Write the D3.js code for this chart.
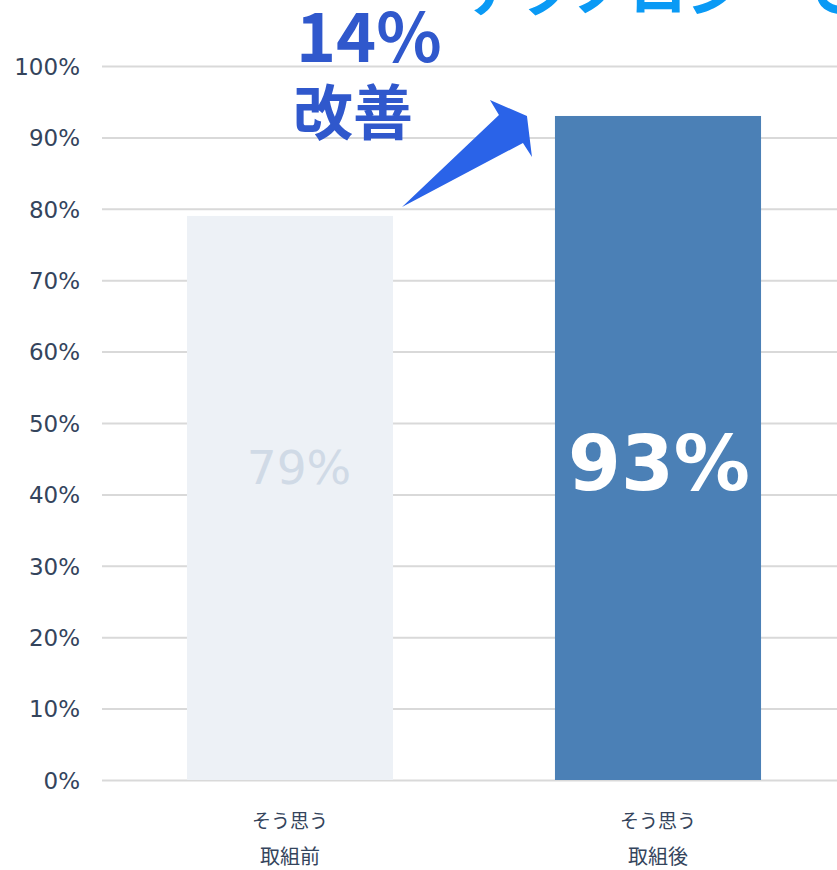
<!DOCTYPE html>
<html>
<head>
<meta charset="utf-8">
<script src="https://cdn.jsdelivr.net/npm/d3@7"></script>
<style>
  html, body { margin: 0; padding: 0; background: #ffffff; overflow: hidden; }
  svg { display: block; }
</style>
</head>
<body>
<svg id="chart" width="837" height="870"></svg>
<script>
// Survey answers "そう思う" before and after the initiative
const categories = ["取組前", "取組後"];
const subLabels = ["そう思う", "そう思う"];
const values = [79, 93];
const valueLabels = ["79%", "93%"];
const yTicks = [0, 10, 20, 30, 40, 50, 60, 70, 80, 90, 100];
const gainLabel = "14%";
const gainText = "改善";
const headline = "テクノロジーで";

const W = 837, H = 870;
const svg = d3.select("#chart");

const x = d3.scaleBand()
  .domain(categories)
  .range([106, 842])
  .paddingInner(0.44)
  .paddingOuter(0.22);

const y = d3.scaleLinear().domain([0, 100]).range([780, 66]);

// horizontal gridlines with percent labels
const yAxis = d3.axisLeft(y)
  .tickValues(yTicks)
  .tickSize(-(W - 102))
  .tickPadding(22)
  .tickFormat(d => d + "%");

const gy = svg.append("g")
  .attr("transform", "translate(102,0)")
  .call(yAxis);
gy.select(".domain").remove();
gy.selectAll(".tick line")
  .attr("stroke", "#d9d9d9")
  .attr("stroke-width", 2);
gy.selectAll(".tick text")
  .attr("fill", "#34445c")
  .attr("font-family", "'DejaVu Sans', sans-serif")
  .attr("font-size", 23)
  .attr("dy", "0.36em");

// bars
const colors = ["#edf1f6", "#4b80b6"];
svg.append("g").selectAll("rect")
  .data(values)
  .join("rect")
  .attr("x", (d, i) => x(categories[i]))
  .attr("y", d => y(d))
  .attr("width", x.bandwidth())
  .attr("height", d => y(0) - y(d))
  .attr("fill", (d, i) => colors[i]);

// value labels inside bars
const labelStyles = [
  { fill: "#d0dae6", size: 47, weight: 400, dx: 9, base: 484 },
  { fill: "#ffffff", size: 76, weight: 700, dx: 1, base: 490 }
];
svg.append("g").selectAll("text")
  .data(valueLabels)
  .join("text")
  .attr("x", (d, i) => x(categories[i]) + x.bandwidth() / 2 + labelStyles[i].dx)
  .attr("y", (d, i) => labelStyles[i].base)
  .attr("text-anchor", "middle")
  .attr("font-family", "'DejaVu Sans', sans-serif")
  .attr("font-size", (d, i) => labelStyles[i].size)
  .attr("font-weight", (d, i) => labelStyles[i].weight)
  .attr("fill", (d, i) => labelStyles[i].fill)
  .text(d => d);

// category labels (two lines)
const cat = svg.append("g").selectAll("g")
  .data(categories)
  .join("g")
  .attr("transform", d => `translate(${x(d) + x.bandwidth() / 2},0)`);
cat.append("text")
  .attr("y", 828)
  .attr("text-anchor", "middle")
  .attr("font-family", "'Noto Sans CJK JP', sans-serif")
  .attr("font-size", 19)
  .attr("fill", "#34445c")
  .text((d, i) => subLabels[i]);
cat.append("text")
  .attr("y", 864)
  .attr("text-anchor", "middle")
  .attr("font-family", "'Noto Sans CJK JP', sans-serif")
  .attr("font-size", 20)
  .attr("fill", "#34445c")
  .text(d => d);

// arrow from the first bar's top toward the second bar
const x0 = x(categories[0]) + x.bandwidth();
const y0 = y(values[0]);
const x1 = x(categories[1]);
const y1 = y(values[1]);
const arrowPts = [
  [x0 + 9, y0 - 9],
  [x1 - 56, y1 - 1],
  [x1 - 65, y1 - 16],
  [x1 - 28, y1],
  [x1 - 23, y1 + 41],
  [x1 - 32, y1 + 27]
];
svg.append("polygon")
  .attr("points", arrowPts.map(p => p.join(",")).join(" "))
  .attr("fill", "#2a63e8");

// improvement annotation
svg.append("text")
  .attr("x", 296)
  .attr("y", 62)
  .attr("font-family", "'Noto Sans CJK JP', sans-serif")
  .attr("font-weight", 700)
  .attr("font-size", 68)
  .attr("fill", "#3058cc")
  .text(gainLabel);
svg.append("text")
  .attr("x", 293)
  .attr("y", 135)
  .attr("font-family", "'Noto Sans CJK JP', sans-serif")
  .attr("font-weight", 700)
  .attr("font-size", 60)
  .attr("fill", "#3058cc")
  .text(gainText);

// headline running off the top edge
svg.append("text")
  .attr("x", 462)
  .attr("y", 11)
  .attr("font-family", "'Noto Sans CJK JP', sans-serif")
  .attr("font-weight", 700)
  .attr("font-size", 57)
  .attr("fill", "#0a9af5")
  .text(headline);
</script>
</body>
</html>
